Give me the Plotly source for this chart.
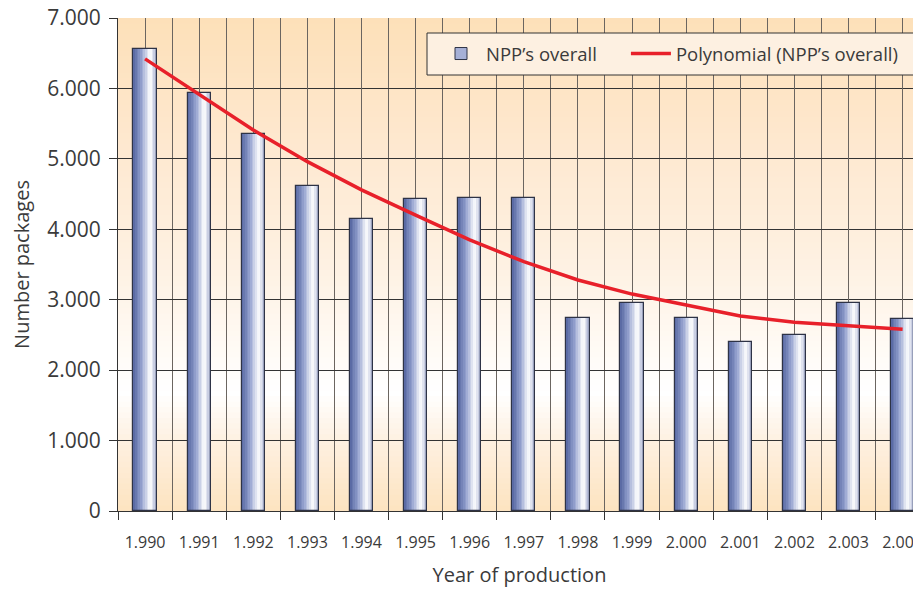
import plotly.graph_objects as go

# ---------------- data ----------------
years = ["1.990", "1.991", "1.992", "1.993", "1.994", "1.995", "1.996", "1.997",
         "1.998", "1.999", "2.000", "2.001", "2.002", "2.003", "2.004"]
npp_overall = [6560, 5930, 5350, 4610, 4150, 4430, 4450, 4450,
               2740, 2950, 2740, 2400, 2500, 2950, 2720]
polynomial_trend = [6420, 5920, 5410, 4960, 4560, 4200, 3850, 3540,
                    3280, 3080, 2920, 2770, 2680, 2630, 2580]
y_tick_values = [0, 1000, 2000, 3000, 4000, 5000, 6000, 7000]
y_tick_labels = ["0", "1.000", "2.000", "3.000", "4.000", "5.000", "6.000", "7.000"]

FONT = "Open Sans"
TXT = "#3a3a3a"
BAR_W = 0.43
N_SLICES = 14
X_RANGE = [-0.5, 14.34]


def hex2rgb(h):
    h = h.lstrip("#")
    return tuple(int(h[i:i + 2], 16) for i in (0, 2, 4))


def grad(stops, t):
    for (t0, c0), (t1, c1) in zip(stops, stops[1:]):
        if t0 <= t <= t1:
            f = 0 if t1 == t0 else (t - t0) / (t1 - t0)
            a, b = hex2rgb(c0), hex2rgb(c1)
            return "rgb(%d,%d,%d)" % tuple(round(a[k] + (b[k] - a[k]) * f) for k in range(3))
    return stops[-1][1]


bar_stops = [(0.0, "#5465a0"), (0.35, "#95a2cf"), (0.72, "#ffffff"), (1.0, "#a9b1d2")]
bg_stops = [(0.0, "#fde3c0"), (0.14, "#fef0e0"), (0.24, "#ffffff"), (0.32, "#fffbf6"),
            (0.5, "#fef1e2"), (0.75, "#fee8cf"), (1.0, "#fde0b9")]

fig = go.Figure()

# base bar (legend swatch)
fig.add_trace(go.Bar(
    x=years, y=npp_overall, name="NPP\u2019s overall\u00a0\u00a0\u00a0\u00a0\u00a0", width=BAR_W,
    marker=dict(color="#a6b0d6", line=dict(color="#2e3346", width=1)),
    showlegend=True,
))
# gradient slices
for i in range(N_SLICES):
    start = -BAR_W / 2 + i * BAR_W / N_SLICES
    w = BAR_W / 2 - start
    fig.add_trace(go.Bar(
        x=years, y=npp_overall, width=w, offset=start,
        marker=dict(color=grad(bar_stops, (i + 0.5) / N_SLICES), line=dict(width=0)),
        showlegend=False, hoverinfo="skip",
    ))
# outline
fig.add_trace(go.Bar(
    x=years, y=npp_overall, width=BAR_W,
    marker=dict(color="rgba(0,0,0,0)", line=dict(color="#2e3346", width=1.2)),
    showlegend=False, hoverinfo="skip",
))
# polynomial trend
fig.add_trace(go.Scatter(
    x=years, y=polynomial_trend, mode="lines", name="Polynomial (NPP\u2019s overall)",
    line=dict(color="#e8202a", width=3.5),
))
# dummy trace to activate centre gridline axis
fig.add_trace(go.Scatter(x=[None], y=[None], xaxis="x2", showlegend=False, hoverinfo="skip"))

# plot area in page pixels: x 118..921, y 18..511 (page has an 8px body margin)
PL, PR, PT, PB = 118, 921, 18, 511
PW, PH = PR - PL, PB - PT
FIG_W, FIG_H = 913, 580

# background gradient bands
NB = 90
shapes = []
for i in range(NB):
    y0 = i / NB
    y1 = min((i + 1) / NB + 0.002, 1)
    shapes.append(dict(type="rect", xref="paper", yref="paper", x0=0, x1=1, y0=y0, y1=y1,
                       fillcolor=grad(bg_stops, (i + 0.5) / NB), line=dict(width=0), layer="below"))
# legend box
shapes.append(dict(type="rect", xref="paper", yref="paper",
                   x0=(427 - PL) / PW, x1=(918 - PL) / PW,
                   y0=(PB - 75) / PH, y1=(PB - 33) / PH,
                   fillcolor="#fdf0e1", line=dict(color="#333333", width=1), layer="above"))

fig.update_layout(
    width=FIG_W, height=FIG_H,
    margin=dict(l=PL - 8, r=0, t=PT - 8, b=FIG_H - (PB - 8)),
    paper_bgcolor="white", plot_bgcolor="white",
    barmode="overlay", bargap=0,
    shapes=shapes,
    font=dict(family=FONT, color=TXT),
    showlegend=True,
    legend=dict(
        x=(436 - PL) / PW, y=(PB - 54) / PH, xanchor="left", yanchor="middle", orientation="h",
        bgcolor="rgba(0,0,0,0)", borderwidth=0,
        font=dict(family=FONT, size=18.5, color=TXT),
        traceorder="normal", itemwidth=40,
    ),
    xaxis=dict(
        type="category", range=X_RANGE, tickson="boundaries", automargin=False,
        showgrid=True, gridcolor="#6b6560", gridwidth=1,
        ticks="outside", ticklen=8, tickcolor="#333333",
        showline=True, linecolor="#333333", linewidth=1,
        tickfont=dict(family=FONT, size=16, color=TXT), ticklabelstandoff=17,
        ticklabeloverflow="allow",
        title=dict(text="Year of production", font=dict(family=FONT, size=20, color=TXT), standoff=22),
        fixedrange=True,
    ),
    xaxis2=dict(
        overlaying="x", anchor="y", range=X_RANGE, tickmode="linear", tick0=0, dtick=1,
        showgrid=True, gridcolor="#6b6560", gridwidth=1, showticklabels=False, ticks="",
        zeroline=False, showline=False,
    ),
    yaxis=dict(
        range=[0, 7000], tickvals=y_tick_values, ticktext=y_tick_labels, automargin=False,
        showgrid=True, gridcolor="#333333", gridwidth=1, zeroline=False,
        ticks="outside", ticklen=8, tickcolor="#333333",
        showline=True, linecolor="#333333", linewidth=1,
        tickfont=dict(family=FONT, size=21, color=TXT), ticklabelstandoff=4,
        ticklabeloverflow="allow",
        title=dict(text="Number packages", font=dict(family=FONT, size=20, color=TXT), standoff=16),
    ),
)

fig.write_html("out.html")
